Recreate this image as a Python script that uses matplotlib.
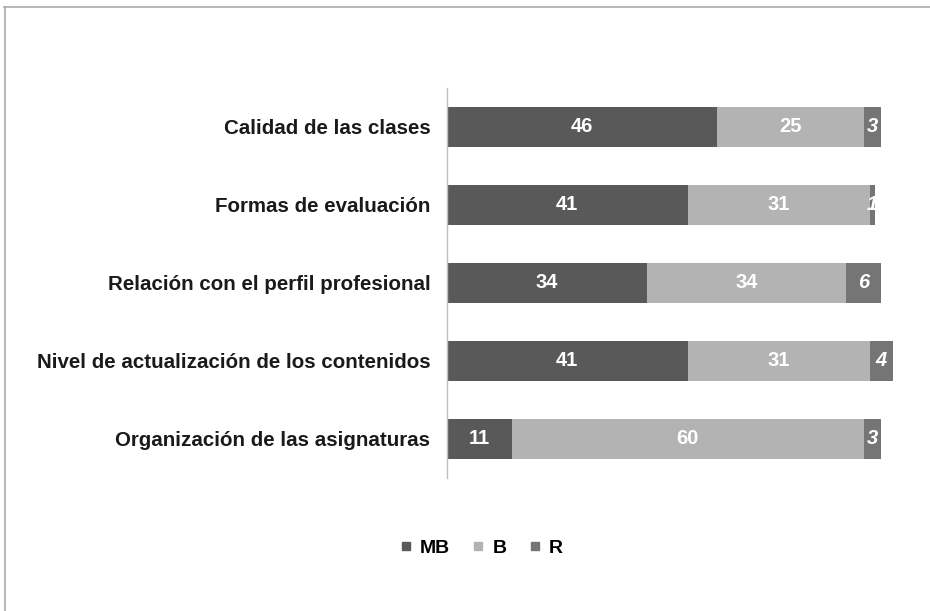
import matplotlib.pyplot as plt
from matplotlib.lines import Line2D

categories = ['Calidad de las clases', 'Formas de evaluación',
              'Relación con el perfil profesional',
              'Nivel de actualización de los contenidos',
              'Organización de las asignaturas']
mb = [46, 41, 34, 41, 11]
b = [25, 31, 34, 31, 60]
r = [3, 1, 6, 4, 3]
series_names = ['MB', 'B', 'R']
colors = ['#595959', '#b3b3b3', '#757575']

plt.rcParams['font.family'] = ['Liberation Sans', 'DejaVu Sans']

fig = plt.figure(figsize=(9.3, 6.11), dpi=100)
ax = fig.add_axes([447 / 930, 133 / 611, 463 / 930, 390 / 611])

y = list(range(len(categories)))
left = [0] * len(categories)
for vals, col, name in zip([mb, b, r], colors, series_names):
    ax.barh(y, vals, left=left, height=0.51, color=col, label=name)
    for yi, v, l in zip(y, vals, left):
        ax.text(l + v / 2, yi, str(v), ha='center', va='center', color='white',
                fontsize=14.5, fontweight='bold',
                style='italic' if name == 'R' else 'normal')
    left = [l + v for l, v in zip(left, vals)]

ax.set_xlim(0, 78.9)
ax.set_ylim(len(categories) - 0.5, -0.5)
ax.set_yticks(y)
ax.set_yticklabels(categories, fontsize=14.8, fontweight='bold', color='#1a1a1a')
ax.set_xticks([])
ax.tick_params(axis='y', length=0, pad=12)
for s in ['top', 'right', 'bottom']:
    ax.spines[s].set_visible(False)
ax.spines['left'].set_color('#bfbfbf')
ax.spines['left'].set_linewidth(1)

handles = [Line2D([], [], marker='s', linestyle='', markersize=6, color=c) for c in colors]
fig.legend(handles, series_names, loc='center', bbox_to_anchor=(482 / 930, 1 - 548 / 611),
           ncol=3, frameon=False, prop={'weight': 'bold', 'size': 14},
           handlelength=0.5, handletextpad=0.47, columnspacing=1.2)

# thin frame on top and left like the original image
fig.add_artist(Line2D([4 / 930, 1], [1 - 7 / 611, 1 - 7 / 611], color='#aaaaaa', lw=1.2))
fig.add_artist(Line2D([5 / 930, 5 / 930], [0, 1 - 7 / 611], color='#aaaaaa', lw=1.2))

fig.savefig('out.png', dpi=100)
